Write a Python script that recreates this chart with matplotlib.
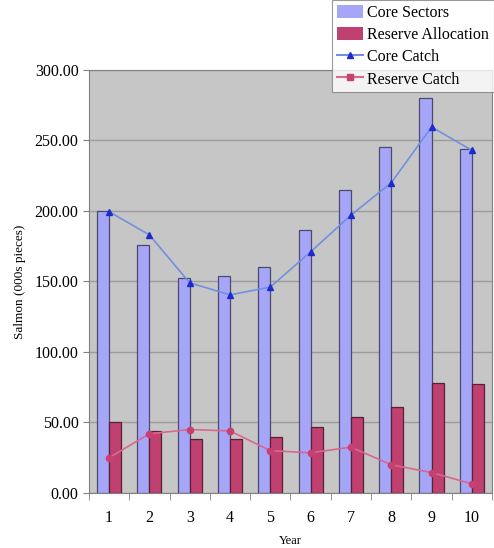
import numpy as np
import matplotlib.pyplot as plt
from matplotlib.patches import Patch
from matplotlib.lines import Line2D

plt.rcParams['font.family'] = ['Liberation Serif', 'DejaVu Serif']

# salmon figures, thousands of pieces
years = ['1', '2', '3', '4', '5', '6', '7', '8', '9', '10']
core_sectors = [200, 176, 152.5, 154, 160, 186.5, 215, 245, 280, 244]
reserve_alloc = [50, 44, 38, 38.5, 40, 47, 54, 61, 78, 77]
core_catch = [199.5, 183, 149, 140.5, 146, 171, 197, 220, 259.5, 243]
reserve_catch = [25, 42, 45, 44, 30, 28.5, 32.5, 20, 14.5, 6.5]

fig = plt.figure(figsize=(4.94, 5.48), dpi=100)
ax = fig.add_axes([0.180, 0.1004, 0.816, 0.772])
ax.set_facecolor('#c6c6c6')

x = np.arange(len(years))
w = 0.30
ax.bar(x - w / 2, core_sectors, w, color='#a6a6f8', edgecolor='#4a4a70', linewidth=0.9, zorder=2)
ax.bar(x + w / 2, reserve_alloc, w, color='#c0406f', edgecolor='#5a2038', linewidth=0.9, zorder=2)
ax.plot(x, core_catch, color='#7090e0', lw=1.2, marker='^', ms=4.5,
        mfc='#1c2ad0', mec='#1c2ad0', zorder=3)
ax.plot(x, reserve_catch, color='#d86890', lw=1.2, marker='o', ms=4.5,
        mfc='#c8406f', mec='#c8406f', zorder=3)

ax.set_xlim(-0.5, len(years) - 0.5)
ax.set_ylim(0, 300)
ax.set_yticks(np.arange(0, 301, 50))
ax.set_yticklabels(['%.2f' % v for v in np.arange(0, 301, 50)], fontsize=11.5)
ax.yaxis.grid(True, color='#9c9c9c', lw=1.0, zorder=0)
ax.set_axisbelow(True)

ax.set_xticks(x)
ax.set_xticklabels(years, fontsize=11.5)
ax.tick_params(axis='x', length=0, pad=12)
ax.set_xticks(np.arange(-0.5, len(years), 1), minor=True)
ax.tick_params(axis='x', which='minor', length=5, color='#808080')
ax.tick_params(axis='y', length=4, color='#808080')

for s in ax.spines.values():
    s.set_color('#808080')

ax.set_ylabel('Salmon (000s pieces)', fontsize=9.5)
ax.yaxis.set_label_coords(-0.157, 0.5)
ax.set_xlabel('Year', fontsize=9, labelpad=7)

handles = [
    Patch(facecolor='#a6a6f8', edgecolor='none'),
    Patch(facecolor='#c0406f', edgecolor='none'),
    Line2D([], [], color='#7090e0', marker='^', ms=4, mfc='#1c2ad0', mec='#1c2ad0'),
    Line2D([], [], color='#d86890', marker='s', ms=4, mfc='#c8406f', mec='#c8406f'),
]
labels = ['Core Sectors', 'Reserve Allocation', 'Core Catch', 'Reserve Catch']
leg = fig.legend(handles, labels, loc='upper right', bbox_to_anchor=(1.0, 1.0),
                 fontsize=11.5, frameon=True, fancybox=False, handlelength=1.6,
                 handleheight=0.9, handletextpad=0.3, borderpad=0.3,
                 labelspacing=0.38, borderaxespad=0.0)
leg.get_frame().set_edgecolor('#808080')
leg.get_frame().set_linewidth(0.8)

fig.savefig('out.png', dpi=100)
